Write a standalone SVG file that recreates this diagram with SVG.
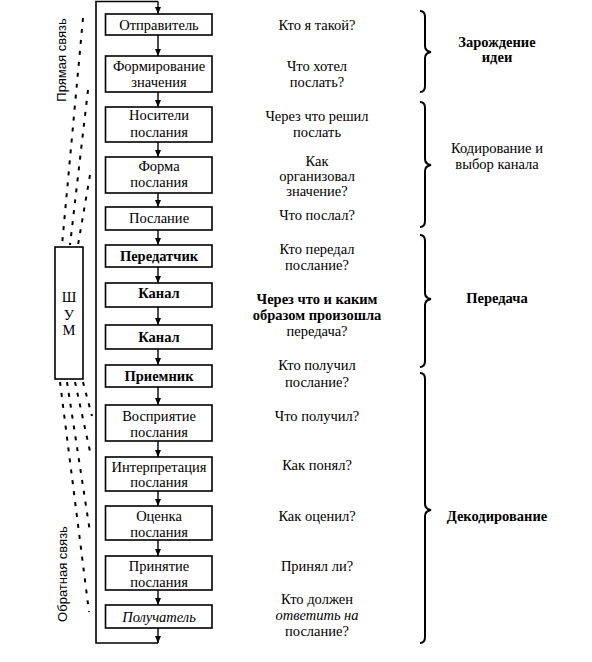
<svg xmlns="http://www.w3.org/2000/svg" width="592" height="662" viewBox="0 0 592 662">
<defs>
<marker id="ah" markerUnits="userSpaceOnUse" markerWidth="8" markerHeight="7" refX="7" refY="3" orient="auto">
<path d="M0,0 L7,3 L0,6 z" fill="#000"/>
</marker>
<style>
.box{fill:#fff;stroke:#000;stroke-width:1.6}
.t{font-family:'Liberation Serif','Times New Roman','DejaVu Serif',serif;font-size:14.5px;fill:#000;text-anchor:middle}
.b{font-weight:bold}
.i{font-style:italic}
.s{font-family:'Liberation Sans',Arial,sans-serif;font-size:13px;fill:#000;text-anchor:middle}
.ln{fill:none;stroke:#000;stroke-width:1.6}
.ar{fill:none;stroke:#000;stroke-width:1.4;marker-end:url(#ah)}
.d{fill:none;stroke:#000;stroke-width:2;stroke-dasharray:4 7}
.br{fill:none;stroke:#000;stroke-width:2}
</style>
</defs>
<rect width="592" height="662" fill="#fff"/>

<g id="connectors">
<path class="ln" d="M158,643 H96 V1.5 H158"/>
<path class="ar" d="M158,1.5 V14"/>
<path class="ar" d="M158,35 V56"/>
<path class="ar" d="M158,92 V107"/>
<path class="ar" d="M158,142 V157"/>
<path class="ar" d="M158,193 V207"/>
<path class="ar" d="M158,230 V245"/>
<path class="ar" d="M158,267 V283"/>
<path class="ar" d="M158,307 V325"/>
<path class="ar" d="M158,349 V365"/>
<path class="ar" d="M158,387 V405"/>
<path class="ar" d="M158,441 V457"/>
<path class="ar" d="M158,491 V506"/>
<path class="ar" d="M158,540 V556"/>
<path class="ar" d="M158,590 V605"/>
<path class="ar" d="M158,628 V643"/>
</g>

<g id="noise-links">
<path class="d" d="M83,18 L62,245"/>
<path class="d" d="M88,90 L70,245"/>
<path class="d" d="M90,175 L78,245"/>
<path class="d" d="M60,382 L89,612"/>
<path class="d" d="M67,382 L90,532"/>
<path class="d" d="M75,382 L91,456"/>
<path class="d" d="M83,382 L92,416"/>
</g>

<g id="n1"><rect class="box" x="105.5" y="14" width="106.5" height="21"/><text class="t" x="159" y="29.5">Отправитель</text></g>
<g id="n2"><rect class="box" x="105.5" y="56" width="106.5" height="36"/><text class="t" x="159" y="71">Формирование</text><text class="t" x="159" y="87">значения</text></g>
<g id="n3"><rect class="box" x="105.5" y="107" width="106.5" height="35"/><text class="t" x="159" y="120">Носители</text><text class="t" x="159" y="137">послания</text></g>
<g id="n4"><rect class="box" x="105.5" y="157" width="106.5" height="36"/><text class="t" x="159" y="171">Форма</text><text class="t" x="159" y="187">послания</text></g>
<g id="n5"><rect class="box" x="105.5" y="207" width="106.5" height="23"/><text class="t" x="159" y="223">Послание</text></g>
<g id="n6"><rect class="box" x="105.5" y="245" width="106.5" height="22"/><text class="t b" x="159" y="261">Передатчик</text></g>
<g id="n7"><rect class="box" x="105.5" y="283" width="106.5" height="24"/><text class="t b" x="159" y="298">Канал</text></g>
<g id="n8"><rect class="box" x="105.5" y="325" width="106.5" height="24"/><text class="t b" x="159" y="342">Канал</text></g>
<g id="n9"><rect class="box" x="105.5" y="365" width="106.5" height="22"/><text class="t b" x="159" y="381">Приемник</text></g>
<g id="n10"><rect class="box" x="105.5" y="405" width="106.5" height="36"/><text class="t" x="159" y="421">Восприятие</text><text class="t" x="159" y="437">послания</text></g>
<g id="n11"><rect class="box" x="105.5" y="457" width="106.5" height="34"/><text class="t" x="159" y="472">Интерпретация</text><text class="t" x="159" y="487">послания</text></g>
<g id="n12"><rect class="box" x="105.5" y="506" width="106.5" height="34"/><text class="t" x="159" y="521">Оценка</text><text class="t" x="159" y="537">послания</text></g>
<g id="n13"><rect class="box" x="105.5" y="556" width="106.5" height="34"/><text class="t" x="159" y="571">Принятие</text><text class="t" x="159" y="587">послания</text></g>
<g id="n14"><rect class="box" x="105.5" y="605" width="106.5" height="23"/><text class="t i" x="159" y="622">Получатель</text></g>

<g id="noise"><rect class="box" x="55" y="247" width="28" height="132"/><text class="t" x="69" y="302">Ш</text><text class="t" x="69" y="320">У</text><text class="t" x="69" y="335">М</text></g>

<g id="side-labels">
<text class="s" transform="translate(66,60) rotate(-90)">Прямая связь</text>
<text class="s" transform="translate(67,574) rotate(-90)">Обратная связь</text>
</g>

<g id="questions">
<text class="t" x="317" y="30">Кто я такой?</text>
<text class="t" x="317" y="71">Что  хотел</text>
<text class="t" x="317" y="87">послать?</text>
<text class="t" x="317" y="121">Через что решил</text>
<text class="t" x="317" y="137">послать</text>
<text class="t" x="317" y="166">Как</text>
<text class="t" x="317" y="181">организовал</text>
<text class="t" x="317" y="196">значение?</text>
<text class="t" x="317" y="220">Что послал?</text>
<text class="t" x="317" y="254">Кто передал</text>
<text class="t" x="317" y="270">послание?</text>
<text class="t b" x="317" y="304">Через что и каким</text>
<text class="t b" x="317" y="320">образом  произошла</text>
<text class="t" x="317" y="336">передача?</text>
<text class="t" x="317" y="370">Кто получил</text>
<text class="t" x="317" y="387">послание?</text>
<text class="t" x="317" y="421">Что  получил?</text>
<text class="t" x="317" y="470">Как понял?</text>
<text class="t" x="317" y="521">Как оценил?</text>
<text class="t" x="317" y="571">Принял ли?</text>
<text class="t" x="317" y="604">Кто должен</text>
<text class="t i" x="317" y="620">ответить  на</text>
<text class="t" x="317" y="636">послание?</text>
</g>

<g id="braces">
<path class="br" d="M420,11 Q425,11 425,17 L425,46 Q425,51 431,52 Q425,53 425,58 L425,86 Q425,92 420,92"/>
<path class="br" d="M420,102 Q425,102 425,108 L425,159 Q425,164 431,165 Q425,166 425,171 L425,221 Q425,227 420,227"/>
<path class="br" d="M420,235 Q425,235 425,241 L425,293 Q425,298 431,299 Q425,300 425,305 L425,361 Q425,367 420,367"/>
<path class="br" d="M420,373 Q425,373 425,379 L425,504 Q425,509 431,510 Q425,511 425,516 L425,637 Q425,643 420,643"/>
</g>

<g id="stages">
<text class="t b" x="497" y="47">Зарождение</text>
<text class="t b" x="497" y="62">идеи</text>
<text class="t" x="497" y="153">Кодирование и</text>
<text class="t" x="497" y="169">выбор канала</text>
<text class="t b" x="497" y="303">Передача</text>
<text class="t b" x="497" y="521">Декодирование</text>
</g>
</svg>
